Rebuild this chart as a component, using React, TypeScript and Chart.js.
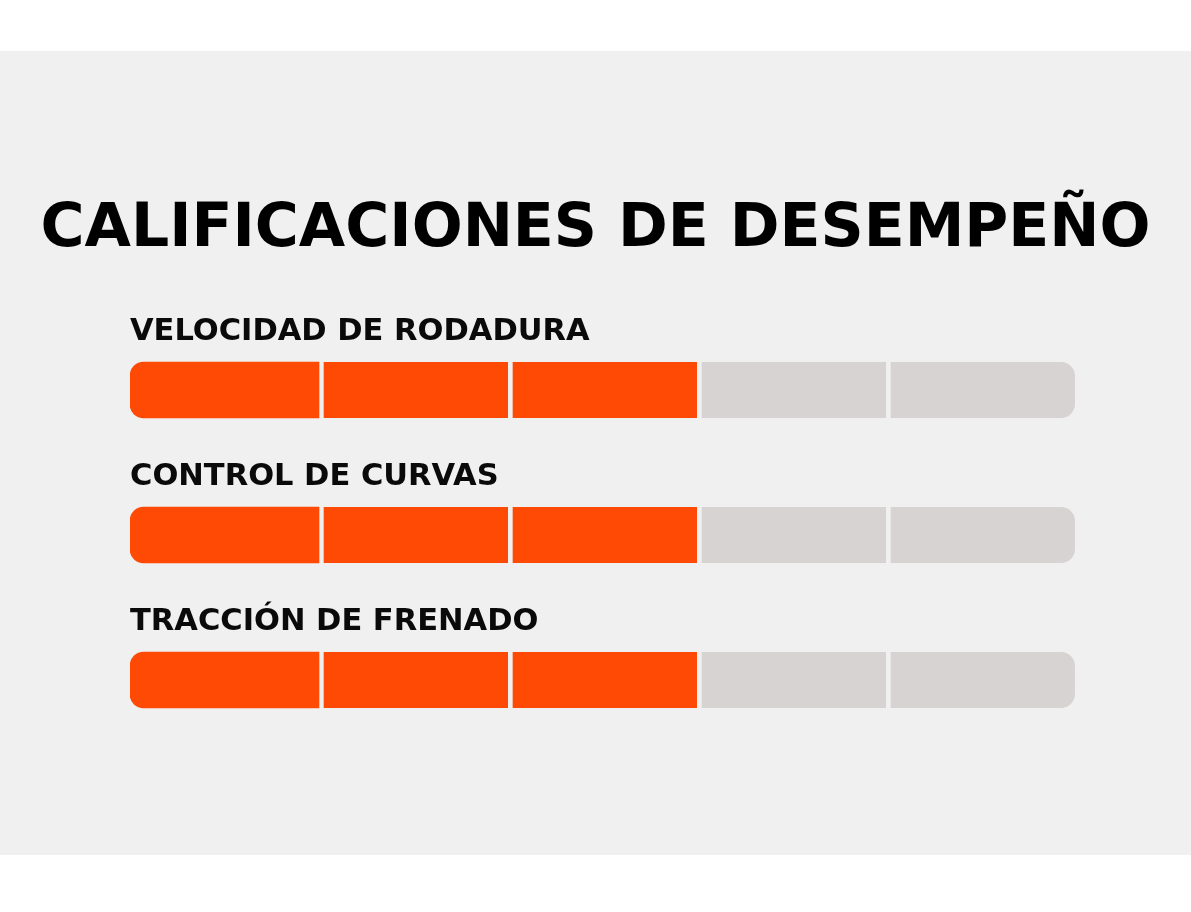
import React, { useEffect, useRef } from "react";
import { Chart, registerables } from "chart.js";

Chart.register(...registerables);

const titleText = "CALIFICACIONES DE DESEMPEÑO";
const categories = ["VELOCIDAD DE RODADURA", "CONTROL DE CURVAS", "TRACCIÓN DE FRENADO"];
const ratings = [3, 3, 3];
const segments = [1, 2, 3, 4, 5];

const ORANGE = "#ff4a05";
const GRAY = "#d7d3d2";
const PANEL = "#f0f0f0";

const labelPlugin = {
  id: "rowLabels",
  afterDatasetsDraw(chart: any) {
    const { ctx, chartArea } = chart;
    const y = chart.scales.y;
    ctx.save();
    ctx.fillStyle = "#0a0a0a";
    ctx.font = "bold 30.5px 'DejaVu Sans'";
    ctx.textAlign = "left";
    ctx.textBaseline = "alphabetic";
    categories.forEach((c, i) => {
      const cy = y.getPixelForValue(i);
      ctx.fillText(c, chartArea.left, cy - 28 - 22);
    });
    ctx.restore();
  },
};

export default function App() {
  const ref = useRef<HTMLCanvasElement | null>(null);
  useEffect(() => {
    if (!ref.current) return;
    const datasets = segments.map((s, si) => ({
      label: "Segmento " + s,
      data: categories.map(() => 1),
      backgroundColor: ratings.map((r) => (r >= s ? ORANGE : GRAY)),
      borderColor: PANEL,
      borderWidth: { left: si === 0 ? 0 : 5, right: 0, top: 0, bottom: 0 },
      borderSkipped: false as const,
      borderRadius:
        si === 0
          ? { topLeft: 14, bottomLeft: 14, topRight: 0, bottomRight: 0 }
          : si === segments.length - 1
          ? { topLeft: 0, bottomLeft: 0, topRight: 14, bottomRight: 14 }
          : 0,
      barThickness: 56,
      yAxisID: "y",
    }));
    const hiddenAxis = (w: number, position: "left" | "right") => ({
      type: "category" as const,
      position,
      labels: categories,
      stacked: true,
      display: true,
      ticks: { display: false },
      grid: { display: false, drawTicks: false },
      border: { display: false },
      afterFit: (s: any) => {
        s.width = w;
      },
    });
    const chart = new Chart(ref.current, {
      type: "bar",
      data: { labels: categories, datasets },
      options: {
        indexAxis: "y",
        animation: false,
        responsive: false,
        layout: { padding: { top: 0, left: 0, right: 0, bottom: 102.5 } },
        scales: {
          x: { stacked: true, min: 0, max: segments.length, display: false },
          y: hiddenAxis(130, "left"),
          y2: hiddenAxis(116, "right"),
        } as any,
        plugins: {
          legend: { display: false },
          tooltip: { enabled: false },
          title: {
            display: true,
            text: titleText,
            color: "#000",
            font: { family: "'DejaVu Sans'", size: 60, weight: "bold", lineHeight: 1.2 },
            padding: { top: 143, bottom: 51.5 },
          },
        },
      },
      plugins: [labelPlugin],
    });
    return () => chart.destroy();
  }, []);
  return (
    <div style={{ position: "fixed", left: 0, top: 0, width: 1191, height: 912, background: "#fff" }}>
      <div style={{ position: "absolute", left: 0, top: 51, width: 1191, height: 804, background: PANEL }}>
        <canvas ref={ref} width={1191} height={804} style={{ display: "block", width: 1191, height: 804 }} />
      </div>
    </div>
  );
}
